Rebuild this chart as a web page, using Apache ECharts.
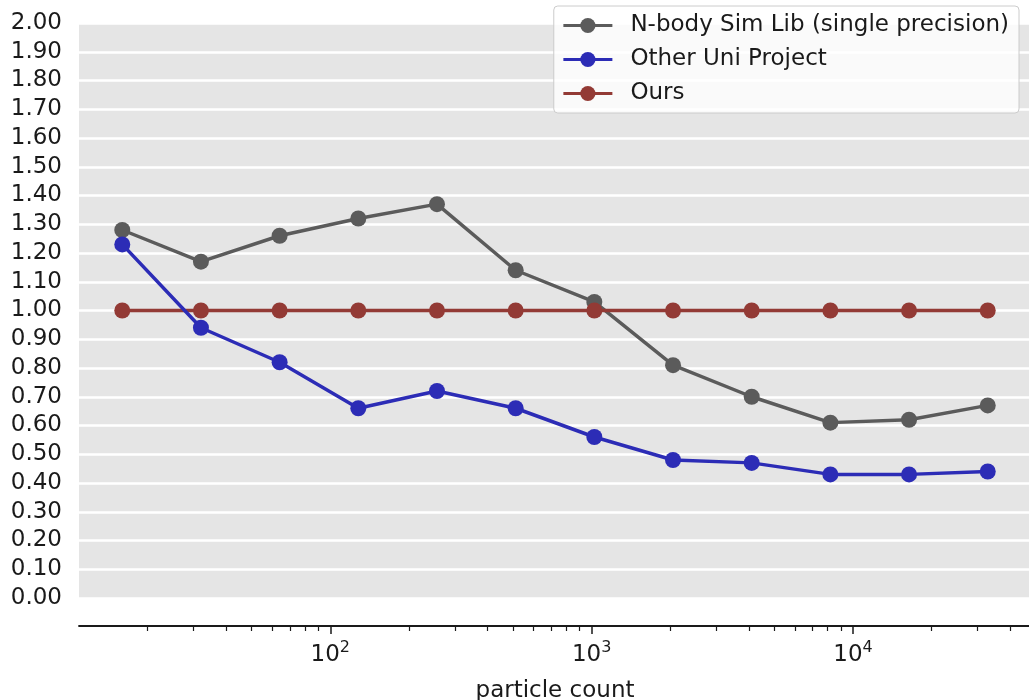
<!DOCTYPE html>
<html>
<head>
<meta charset="utf-8">
<script src="https://cdn.jsdelivr.net/npm/echarts@6/dist/echarts.min.js"></script>
<style>
html,body{margin:0;padding:0;background:#fff;}
#chart{width:1029px;height:700px;}
</style>
</head>
<body>
<div id="chart"></div>
<script>
const particleCounts = [16, 32, 64, 128, 256, 512, 1024, 2048, 4096, 8192, 16384, 32768];
const nbodyLib = [1.28, 1.17, 1.26, 1.32, 1.37, 1.14, 1.03, 0.81, 0.70, 0.61, 0.62, 0.67];
const otherUni = [1.23, 0.94, 0.82, 0.66, 0.72, 0.66, 0.56, 0.48, 0.47, 0.43, 0.43, 0.44];
const ours = [1.00, 1.00, 1.00, 1.00, 1.00, 1.00, 1.00, 1.00, 1.00, 1.00, 1.00, 1.00];
const seriesNames = ['N-body Sim Lib (single precision)', 'Other Uni Project', 'Ours'];
const majorTicks = [100, 1000, 10000];
const minorTicks = [20,30,40,50,60,70,80,90,200,300,400,500,600,700,800,900,2000,3000,4000,5000,6000,7000,8000,9000,20000,30000,40000];
const xAxisName = 'particle count';

const colors = ['#5b5b5b', '#2c2cb6', '#933a35'];
const FONT = 'DejaVu Sans';
const FS = 23;

// matplotlib-like 5% margins in log space
const lmin = Math.log10(particleCounts[0]);
const lmax = Math.log10(particleCounts[particleCounts.length - 1]);
const span = lmax - lmin;
const xMin = Math.pow(10, lmin - 0.05 * span);
const xMax = Math.pow(10, lmax + 0.05 * span);

function pairs(arr) { return particleCounts.map((c, i) => [c, arr[i]]); }

const chart = echarts.init(document.getElementById('chart'), null, {renderer: 'canvas'});
const seriesData = [nbodyLib, otherUni, ours];

const commonX = {
  type: 'log', logBase: 10, min: xMin, max: xMax, position: 'bottom', offset: 28,
  splitLine: {show: false}, minorTick: {show: false}, minorSplitLine: {show: false}
};

chart.setOption({
  animation: false,
  backgroundColor: '#ffffff',
  textStyle: {fontFamily: FONT},
  grid: {left: 79, top: 23, width: 952, bottom: 102, backgroundColor: '#e5e5e5', show: true, borderWidth: 0,
         containLabel: false, outerBoundsMode: 'none'},
  legend: {
    data: seriesNames,
    orient: 'vertical',
    right: 10, top: 6,
    padding: [7, 10, 7, 8],
    itemWidth: 49, itemHeight: 19, itemGap: 9,
    backgroundColor: 'rgba(255,255,255,0.8)',
    borderColor: '#cccccc', borderWidth: 1, borderRadius: 4,
    lineStyle: {width: 3.2},
    textStyle: {fontFamily: FONT, fontSize: FS, color: '#1a1a1a', lineHeight: 25, padding: [0, 0, 0, 13]}
  },
  xAxis: [
    Object.assign({}, commonX, {
      name: xAxisName, nameLocation: 'middle', nameGap: 54,
      nameTextStyle: {fontFamily: FONT, fontSize: FS, color: '#1a1a1a'},
      axisLine: {show: true, onZero: false, lineStyle: {color: '#1a1a1a', width: 1.8}},
      axisTick: {show: true, length: 8, inside: false, customValues: majorTicks, lineStyle: {color: '#1a1a1a', width: 1.5}},
      axisLabel: {
        show: true, margin: 14, customValues: majorTicks,
        formatter: v => '{b|10}{s|' + Math.round(Math.log10(v)) + '}',
        rich: {
          b: {fontFamily: FONT, fontSize: FS, color: '#1a1a1a', verticalAlign: 'bottom', lineHeight: 27},
          s: {fontFamily: FONT, fontSize: 16, color: '#1a1a1a', verticalAlign: 'top', lineHeight: 27}
        }
      }
    }),
    Object.assign({}, commonX, {
      axisLine: {show: false, onZero: false},
      axisTick: {show: true, length: 5, inside: false, customValues: minorTicks, lineStyle: {color: '#1a1a1a', width: 1.2}},
      axisLabel: {show: false}
    })
  ],
  yAxis: {
    type: 'value', min: 0, max: 2, interval: 0.1,
    axisLine: {show: false}, axisTick: {show: false},
    axisLabel: {fontFamily: FONT, fontSize: FS, color: '#1a1a1a', margin: 17, formatter: v => v.toFixed(2)},
    splitLine: {show: true, lineStyle: {color: '#ffffff', width: 2.5}}
  },
  series: seriesNames.map((name, i) => ({
    name: name, type: 'line', xAxisIndex: 0,
    data: pairs(seriesData[i]),
    symbol: 'circle', symbolSize: 16,
    lineStyle: {color: colors[i], width: 3.5},
    itemStyle: {color: colors[i]},
    z: 2 + (i === 2 ? 0 : i)
  }))
});
</script>
</body>
</html>
